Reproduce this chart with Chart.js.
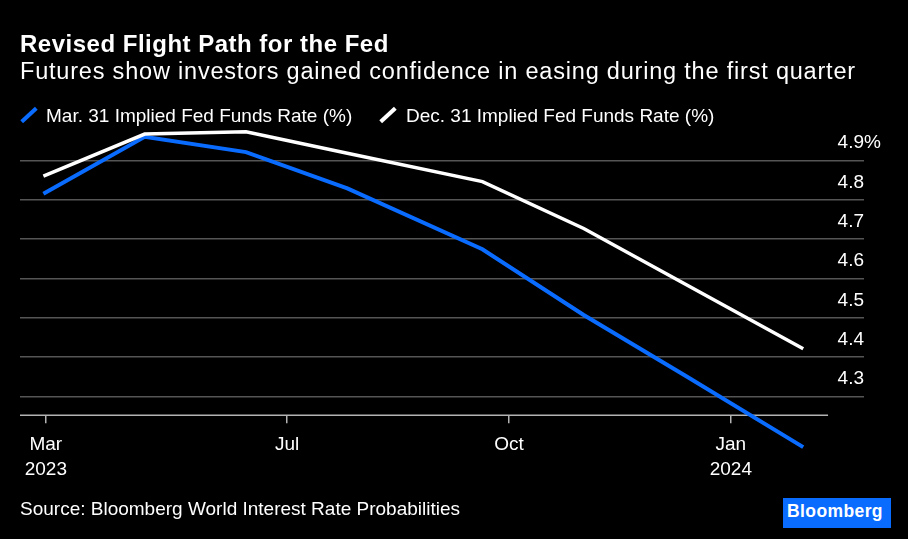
<!DOCTYPE html>
<html>
<head>
<meta charset="utf-8">
<script src="https://cdn.jsdelivr.net/npm/chart.js@4.4.0/dist/chart.umd.min.js"></script>
<style>
  body { margin: 0; background: #000; width: 908px; height: 539px; overflow: hidden; position: relative;
         font-family: "Liberation Sans", Arial, sans-serif; color: #fff; }
  canvas { position: absolute; left: 0; top: 0; }
  .t { position: absolute; white-space: nowrap; line-height: 1; }
  #title { left: 20px; top: 32px; font-size: 24px; font-weight: bold; letter-spacing: 0.5px; }
  #sub { left: 20px; top: 60px; font-size: 23.5px; letter-spacing: 0.8px; }
  .leg { top: 106px; font-size: 19px; }
  .sw { position: absolute; top: 105px; width: 4px; height: 20px; transform: rotate(47deg); }
  #src { left: 20px; top: 499px; font-size: 19px; }
  #logo { position: absolute; left: 783px; top: 498px; width: 108px; height: 30px; box-sizing: border-box;
          padding: 5px 0 0 4px; background: #0a6bff; font-weight: bold; font-size: 17.5px; line-height: 1;
          letter-spacing: 0.4px; white-space: nowrap; }
</style>
</head>
<body>
<canvas id="chart" width="908" height="539"></canvas>
<div class="t" id="title">Revised Flight Path for the Fed</div>
<div class="t" id="sub">Futures show investors gained confidence in easing during the first quarter</div>
<div class="sw" id="sw0" style="left:27px"></div>
<div class="t leg" id="leg0" style="left:46px"></div>
<div class="sw" id="sw1" style="left:386px"></div>
<div class="t leg" id="leg1" style="left:406px"></div>
<div class="t" id="src">Source: Bloomberg World Interest Rate Probabilities</div>
<div id="logo">Bloomberg</div>
<script>
// FOMC meeting dates and implied policy rate at each one
const meetingDates = ['2023-03-22', '2023-05-03', '2023-06-14', '2023-07-26', '2023-09-20', '2023-11-01', '2023-12-13', '2024-01-31'];
const mar31Rates = [4.815, 4.960, 4.921, 4.829, 4.674, 4.507, 4.353, 4.171];
const dec31Rates = [4.860, 4.967, 4.973, 4.918, 4.846, 4.727, 4.586, 4.421];
const seriesNames = ['Mar. 31 Implied Fed Funds Rate (%)', 'Dec. 31 Implied Fed Funds Rate (%)'];
const seriesColors = ['#0a6bff', '#ffffff'];

const tickDates = ['2023-03-23', '2023-07-01', '2023-10-01', '2024-01-01'];
const tickLabels = [['Mar', '2023'], ['Jul'], ['Oct'], ['Jan', '2024']];
const yTicks = [4.3, 4.4, 4.5, 4.6, 4.7, 4.8, 4.9];

// axis extents, in days after the first meeting
const xMin = -9.7, xMax = 340.2, xAxisEnd = 325.3;
const yMin = 4.252, yMax = 4.99;

const day = d => (Date.parse(d) - Date.parse(meetingDates[0])) / 864e5;
const points = vals => meetingDates.map((d, i) => ({ x: day(d), y: vals[i] }));

seriesNames.forEach((n, i) => {
  document.getElementById('leg' + i).textContent = n;
  document.getElementById('sw' + i).style.background = seriesColors[i];
});

const axisDecor = {
  id: 'axisDecor',
  beforeDatasetsDraw(chart) {
    const { ctx, chartArea, scales: { x, y } } = chart;
    ctx.save();
    ctx.strokeStyle = '#b3b3b3';
    ctx.lineWidth = 1.5;
    ctx.beginPath();
    ctx.moveTo(chartArea.left, chartArea.bottom);
    ctx.lineTo(x.getPixelForValue(xAxisEnd), chartArea.bottom);
    ctx.stroke();

    ctx.fillStyle = '#fff';
    ctx.font = '19px "Liberation Sans", Arial, sans-serif';
    ctx.textBaseline = 'alphabetic';
    y.ticks.forEach((t, i) => {
      const py = y.getPixelForValue(t.value) - 12;
      ctx.textAlign = 'right';
      ctx.fillText(t.value.toFixed(1), chartArea.right, py);
      if (i === y.ticks.length - 1) {
        ctx.textAlign = 'left';
        ctx.fillText('%', chartArea.right, py);
      }
    });
    ctx.restore();
  }
};

new Chart(document.getElementById('chart'), {
  type: 'line',
  data: {
    datasets: [
      { label: seriesNames[0], data: points(mar31Rates), borderColor: seriesColors[0], borderWidth: 4,
        pointRadius: 0, clip: false, order: 1 },
      { label: seriesNames[1], data: points(dec31Rates), borderColor: seriesColors[1], borderWidth: 3.5,
        pointRadius: 0, clip: false, order: 0 }
    ]
  },
  options: {
    responsive: false,
    animation: false,
    layout: { padding: { left: 20, right: 44, top: 125, bottom: 539 - 415.3 - 70 } },
    plugins: { legend: { display: false }, tooltip: { enabled: false } },
    scales: {
      x: {
        type: 'linear', min: xMin, max: xMax,
        afterBuildTicks: s => { s.ticks = tickDates.map(d => ({ value: day(d) })); },
        afterFit: s => { s.height = 70; },
        border: { display: false },
        grid: { drawOnChartArea: false, drawTicks: true, tickLength: 8, color: '#b3b3b3', lineWidth: 1.5 },
        ticks: { color: '#fff', font: { family: '"Liberation Sans", Arial, sans-serif', size: 19, lineHeight: 1.32 },
                 padding: 9, maxRotation: 0, autoSkip: false, callback: (v, i) => tickLabels[i] }
      },
      y: {
        position: 'right', min: yMin, max: yMax,
        afterBuildTicks: s => { s.ticks = yTicks.map(v => ({ value: v })); },
        afterFit: s => { s.width = 0; },
        border: { display: false },
        grid: { color: '#555', lineWidth: 1.5, drawTicks: false },
        ticks: { display: false }
      }
    }
  },
  plugins: [axisDecor]
});
</script>
</body>
</html>
